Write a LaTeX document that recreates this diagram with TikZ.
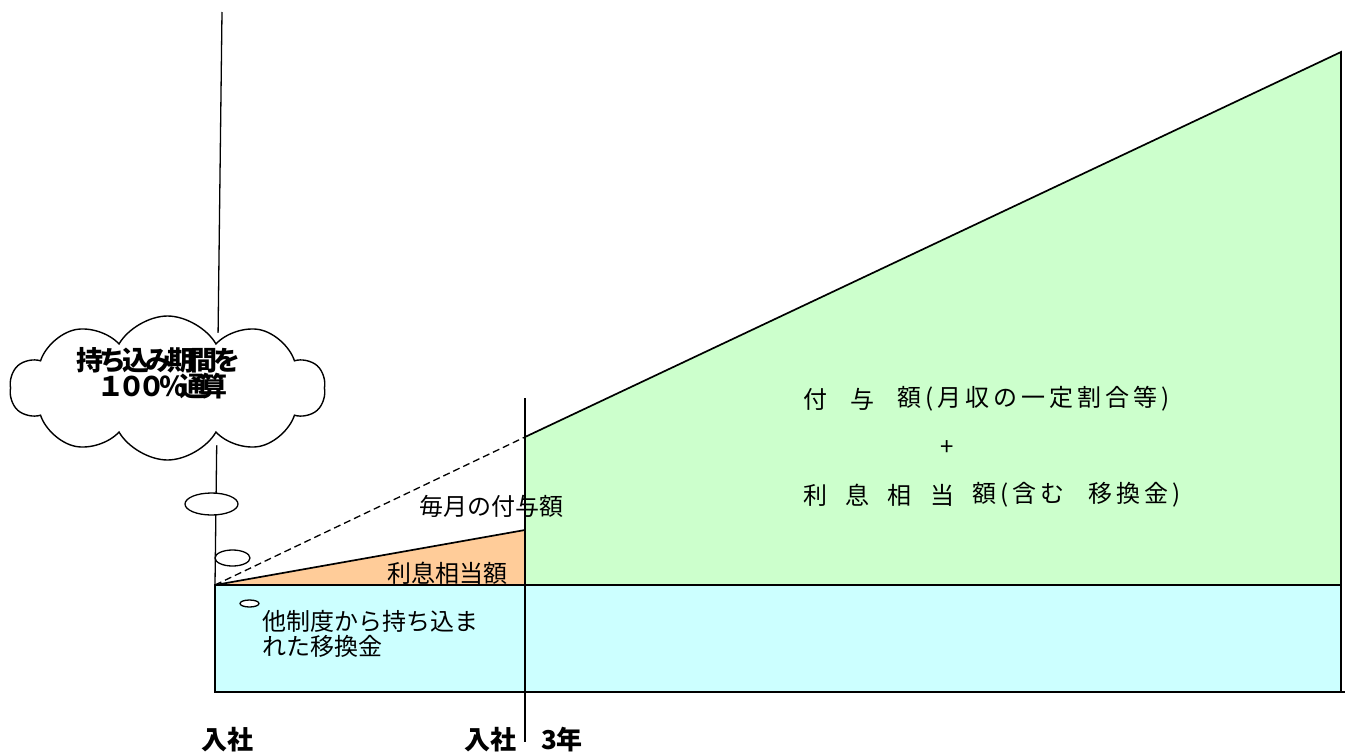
\documentclass[tikz,border=0pt]{standalone}
\usepackage{fontspec}
\newfontfamily\jp{Noto Sans CJK JP}
\usetikzlibrary{shapes.symbols,shapes.geometric}
\definecolor{cyanfill}{HTML}{CCFFFF}
\definecolor{greenfill}{HTML}{CCFFCC}
\definecolor{orangefill}{HTML}{FFCC99}
\tikzset{
  edge/.style={draw=black,line width=1.7pt,line join=miter},
  thin line/.style={draw=black,line width=1.3pt},
  lbl/.style={inner sep=0pt,font=\jp\fontsize{24}{26}\selectfont},
  glbl/.style={inner sep=0pt,anchor=west,font=\jp\fontsize{24}{26}\selectfont\addfontfeature{LetterSpace=16.7}},
  blbl/.style={inner sep=0pt,font=\jp\bfseries\fontsize{26}{28}\selectfont},
  bubble/.style={ellipse,draw=black,line width=1.3pt,fill=white,inner sep=0pt},
}
\begin{document}
\begin{tikzpicture}[x=1pt,y=-1pt]
\useasboundingbox (0,0) rectangle (1345,755);
% key points
\coordinate (O) at (215,585);
\coordinate (Rb) at (1341,692);
\coordinate (M) at (525,585);
\coordinate (Mo) at (525,530);
\coordinate (Md) at (525,437);
\coordinate (Gt) at (1341,52);
\coordinate (Gb) at (1341,585);
\coordinate (Vt) at (525,398);
\coordinate (Vb) at (525,742);
\coordinate (Ct) at (222,12);
\coordinate (Tk) at (1345,692);
% cyan base
\path[edge,fill=cyanfill] (O) rectangle (Rb);
\draw[edge] (Rb) -- (Tk);
% green area
\path[edge,fill=greenfill] (Md) -- (Gt) -- (Gb) -- (M) -- cycle;
% orange triangle
\path[edge,fill=orangefill] (O) -- (Mo) -- (M) -- cycle;
% dashed line
\draw[thin line,dash pattern=on 7pt off 4pt] (O) -- (Md);
% vertical marker
\draw[thin line] (Vt) -- (Vb);
% callout line
\draw[thin line] (Ct) -- (O);
% cloud
\fill[white] (167.5,389) ellipse [x radius=140pt, y radius=60pt];
\node[cloud,draw=black,line width=1.4pt,fill=white,cloud puffs=10,cloud puff arc=120,
  cloud ignores aspect,minimum width=315pt,minimum height=144pt,inner sep=0pt] (cloud) at (167.5,388) {};
\node[bubble,minimum width=53pt,minimum height=22pt] (b1) at (211.5,504) {};
\node[bubble,minimum width=35pt,minimum height=16pt] (b2) at (232.5,558) {};
\node[bubble,minimum width=19pt,minimum height=7pt] (b3) at (249.5,603.5) {};
% cloud text
\node[inner sep=0pt,font=\jp\bfseries\fontsize{27}{29}\selectfont\addfontfeature{LetterSpace=-16}] (ct1) at (158.5,360) {持ち込み期間を};
\node[inner sep=0pt,font=\jp\bfseries\fontsize{27}{29}\selectfont\addfontfeature{LetterSpace=-24}] (ct2) at (162.5,386) {１００％通算};
% labels
\node[lbl] (monthly) at (491,506) {毎月の付与額};
\node[lbl] (interest) at (447.5,573) {利息相当額};
\node[lbl,anchor=west] (trans1) at (262,621) {他制度から持ち込ま};
\node[lbl,anchor=west] (trans2) at (262,646) {れた移換金};
% green text
\node[glbl] (g1a) at (803,399) {付};
\node[glbl] (g1b) at (850,399) {与};
\node[glbl] (g1c) at (897,399) {額(月収の一定割合等)};
\node[lbl] (plus) at (947,448) {+};
\node[glbl] (g3a) at (803,495) {利};
\node[glbl] (g3b) at (845,495) {息};
\node[glbl] (g3c) at (887,495) {相};
\node[glbl] (g3d) at (930,495) {当};
\node[glbl] (g3e) at (972,495) {額(含む};
\node[glbl] (g3f) at (1088,495) {移換金)};
% axis labels
\node[blbl] (start) at (227,740) {入社};
\node[blbl] (start3) at (490,740) {入社};
\node[blbl] (yr3) at (562,740) {3年};
\end{tikzpicture}
\end{document}
